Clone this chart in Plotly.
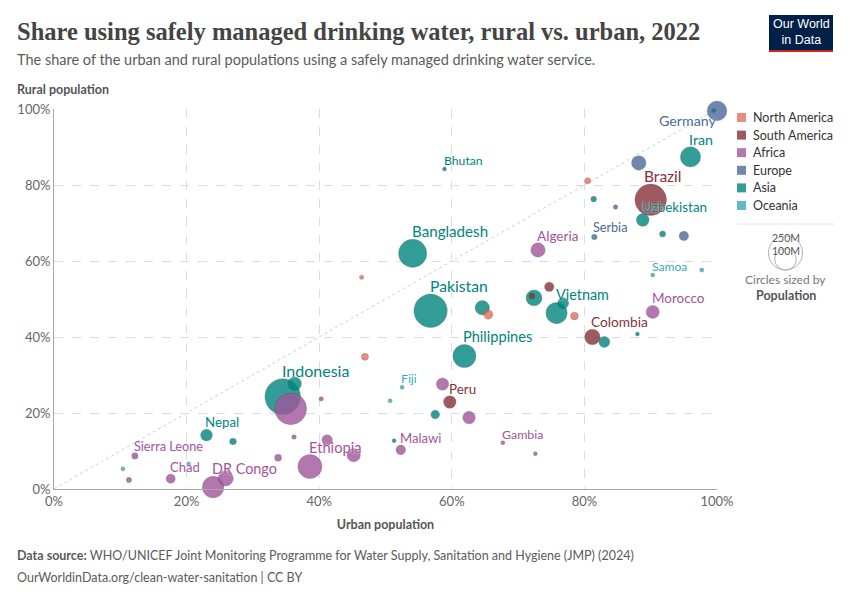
import plotly.graph_objects as go
import math

# ---------------- DATA ----------------
entities = [
    "Germany", "Asia-a", "Iran", "Europe-a", "NorthAm-a", "Brazil", "Asia-b", "Europe-b",
    "Uzbekistan", "Serbia", "Asia-c", "Europe-c", "Samoa", "Oceania-a", "Morocco", "Asia-d",
    "Colombia", "Asia-e", "Vietnam", "NorthAm-b", "Asia-f", "Asia-g", "SouthAm-a", "SouthAm-b",
    "Asia-h", "NorthAm-c", "Pakistan", "Bangladesh", "Algeria", "Bhutan", "NorthAm-d",
    "Philippines", "NorthAm-e", "Indonesia", "Asia-i", "Nigeria", "Africa-a", "Fiji",
    "Oceania-b", "Africa-b", "Peru", "Asia-j", "Africa-c", "Africa-d", "Africa-e", "Ethiopia",
    "Africa-f", "Africa-g", "Asia-k", "Malawi", "Gambia", "Africa-h", "Nepal", "Asia-l",
    "Sierra Leone", "Oceania-c", "Oceania-d", "Africa-i", "Chad", "DR Congo", "Africa-j",
]
continents = [
    "Europe", "Asia", "Asia", "Europe", "North America", "South America", "Asia", "Europe",
    "Asia", "Europe", "Asia", "Europe", "Oceania", "Oceania", "Africa", "Asia",
    "South America", "Asia", "Asia", "North America", "Asia", "Asia", "South America", "South America",
    "Asia", "North America", "Asia", "Asia", "Africa", "Asia", "North America",
    "Asia", "North America", "Asia", "Asia", "Africa", "Africa", "Oceania",
    "Oceania", "Africa", "South America", "Asia", "Africa", "Africa", "Africa", "Africa",
    "Africa", "Africa", "Asia", "Africa", "Africa", "Africa", "Asia", "Asia",
    "Africa", "Oceania", "Oceania", "Africa", "Africa", "Africa", "Africa",
]
urban = [
    100.0, 99.5, 96.0, 88.2, 80.5, 90.0, 81.4, 84.7,
    88.8, 81.5, 91.8, 95.0, 90.3, 97.7, 90.3, 88.0,
    81.2, 83.0, 75.8, 78.5, 76.8, 72.4, 72.1, 74.7,
    64.6, 65.5, 56.8, 54.1, 73.0, 58.9, 46.4,
    61.9, 46.9, 34.5, 36.3, 35.7, 40.3, 52.5,
    50.7, 58.6, 59.7, 57.5, 62.6, 36.2, 41.2, 38.6,
    45.2, 33.8, 51.3, 52.3, 67.7, 72.6, 23.0, 27.0,
    12.2, 20.3, 10.4, 11.3, 17.6, 24.0, 25.9,
]
rural = [
    99.5, 99.6, 87.4, 85.8, 81.1, 76.1, 76.3, 74.2,
    70.8, 66.3, 67.1, 66.6, 56.3, 57.6, 46.6, 40.8,
    40.0, 38.7, 46.3, 45.5, 48.9, 50.3, 50.8, 53.2,
    47.7, 45.9, 46.9, 62.0, 62.9, 84.2, 55.7,
    35.0, 34.8, 24.3, 27.7, 21.1, 23.7, 26.8,
    23.2, 27.6, 22.9, 19.6, 18.8, 13.7, 12.9, 5.9,
    8.9, 8.2, 12.7, 10.3, 12.2, 9.3, 14.2, 12.5,
    8.7, 6.6, 5.3, 2.4, 2.7, 0.5, 2.8,
]
population_m = [
    84, 1.5, 89, 45, 8, 215, 7, 4.5,
    35, 6.7, 8, 19, 0.2, 0.3, 37, 2,
    52, 26, 98, 13, 26, 55, 7, 19,
    45, 18, 240, 171, 45, 0.8, 4,
    115, 11, 275, 40, 218, 4, 0.9,
    0.7, 33, 34, 16, 34, 4.5, 24, 125,
    38, 10.5, 1.5, 20, 2.7, 3, 30, 9.5,
    8.6, 0.5, 1.0, 6, 18, 100, 49,
]
labeled = [
    "Germany", "Iran", "Brazil", "Uzbekistan", "Serbia", "Samoa", "Morocco", "Colombia",
    "Vietnam", "Pakistan", "Bangladesh", "Algeria", "Bhutan", "Philippines", "Indonesia",
    "Fiji", "Peru", "Ethiopia", "Malawi", "Gambia", "Nepal", "Sierra Leone", "Chad", "DR Congo",
]
continent_order = ["North America", "South America", "Africa", "Europe", "Asia", "Oceania"]
x_ticks = [0, 20, 40, 60, 80, 100]
y_ticks = [0, 20, 40, 60, 80, 100]
x_tick_labels = ["0%", "20%", "40%", "60%", "80%", "100%"]
y_tick_labels = ["0%", "20%", "40%", "60%", "80%", "100%"]
size_legend_values = [250, 100]
size_legend_labels = ["250M", "100M"]

# ---------------- STYLE ----------------
W, H = 850, 600
L, R, T, B = 54, 133, 109, 111
PW, PH = W - L - R, H - T - B
FONT = "Lato, 'Open Sans', sans-serif"
marker_colors = {
    "North America": "#e56e5a", "South America": "#883039", "Africa": "#a2559c",
    "Europe": "#4c6a9c", "Asia": "#00847e", "Oceania": "#38aaba",
}
label_colors = {
    "North America": "#c9523f", "South America": "#883039", "Africa": "#a2559c",
    "Europe": "#4c6a9c", "Asia": "#00847e", "Oceania": "#38aaba",
}
MAX_R, MAX_POP = 17.0, 250.0
SIZEREF = MAX_POP / (2 * MAX_R ** 2)
label_tweaks = {"Brazil": dict(xshift=-7)}


def px_x(px):
    return (px - L) / PW


def px_y(py):
    return (H - B - py) / PH


def radius(pop):
    return max(MAX_R * math.sqrt(pop / MAX_POP), 2.0)


fig = go.Figure()

# bubbles, largest drawn first
order = sorted(range(len(entities)), key=lambda i: -population_m[i])
fig.add_trace(go.Scatter(
    x=[urban[i] for i in order],
    y=[rural[i] for i in order],
    mode="markers",
    text=[entities[i] for i in order],
    marker=dict(
        size=[population_m[i] for i in order],
        sizemode="area", sizeref=SIZEREF, sizemin=2,
        color=[marker_colors[continents[i]] for i in order],
        opacity=0.8,
        line=dict(width=0.6, color="rgba(70,70,70,0.55)"),
    ),
    cliponaxis=False,
    showlegend=False,
    hoverinfo="text",
))

annotations = []
shapes = []
for name in labeled:
    i = entities.index(name)
    pop = population_m[i]
    r = radius(pop)
    fs = 12.0 + 4.0 * math.sqrt(pop / 275.0)
    ann = dict(
        x=urban[i], y=rural[i], xref="x", yref="y", text=name, showarrow=False,
        xanchor="left", yanchor="bottom", yshift=r - 1, xshift=-1,
        borderpad=0, borderwidth=0,
        font=dict(family=FONT, size=fs, color=label_colors[continents[i]],
                  shadow="0px 0px 2px white"),
    )
    if name == "Germany":
        ann.update(xanchor="right", yanchor="middle", xshift=-1, yshift=-10)
    ann.update(label_tweaks.get(name, {}))
    annotations.append(ann)

# continent legend (colour key)
LEG_X, LEG_Y0, LEG_DY = 741.5, 117.5, 17.6
for k, c in enumerate(continent_order):
    cy = LEG_Y0 + k * LEG_DY
    shapes.append(dict(
        type="rect", xref="paper", yref="paper", xsizemode="pixel", ysizemode="pixel",
        xanchor=px_x(LEG_X), yanchor=px_y(cy), x0=-4.5, x1=4.5, y0=-4.5, y1=4.5,
        fillcolor=marker_colors[c], opacity=0.8, line=dict(width=0),
    ))
    annotations.append(dict(
        xref="paper", yref="paper", x=px_x(751), y=px_y(cy), xanchor="left", yanchor="middle",
        text=c, showarrow=False, font=dict(family=FONT, size=12.5, color="#333333"),
    ))

# header / footer
annotations += [
    dict(xref="paper", yref="paper", x=px_x(15), y=px_y(31), xanchor="left", yanchor="middle",
         text="<b>Share using safely managed drinking water, rural vs. urban, 2022</b>",
         showarrow=False, font=dict(family="'Liberation Serif', serif", size=24.5, color="#444444")),
    dict(xref="paper", yref="paper", x=px_x(15), y=px_y(59), xanchor="left", yanchor="middle",
         text="The share of the urban and rural populations using a safely managed drinking water service.",
         showarrow=False, font=dict(family=FONT, size=14.5, color="#5b5b5b")),
    dict(xref="paper", yref="paper", x=px_x(15), y=px_y(90), xanchor="left", yanchor="middle",
         text="<b>Rural population</b>", showarrow=False,
         font=dict(family=FONT, size=12.5, color="#555555")),
    dict(xref="paper", yref="paper", x=px_x(801), y=px_y(32), xanchor="center", yanchor="middle",
         text="Our World<br>in Data", showarrow=False,
         font=dict(family="'Liberation Sans Narrow', 'Liberation Sans', sans-serif", size=12.5, color="white")),
    dict(xref="paper", yref="paper", x=px_x(15), y=px_y(555), xanchor="left", yanchor="middle",
         text="<b>Data source:</b> WHO/UNICEF Joint Monitoring Programme for Water Supply, Sanitation and Hygiene (JMP) (2024)",
         showarrow=False, font=dict(family=FONT, size=12.5, color="#5b5b5b")),
    dict(xref="paper", yref="paper", x=px_x(15), y=px_y(577), xanchor="left", yanchor="middle",
         text="OurWorldinData.org/clean-water-sanitation | CC BY",
         showarrow=False, font=dict(family=FONT, size=12.5, color="#5b5b5b")),
]

# size legend
cx, base_y = 785.5, 270
label_y = {250: 238, 100: 251}
for v, lab in zip(size_legend_values, size_legend_labels):
    r = MAX_R * math.sqrt(v / MAX_POP)
    cy = base_y - r
    shapes.append(dict(
        type="circle", xref="paper", yref="paper", xsizemode="pixel", ysizemode="pixel",
        xanchor=px_x(cx), yanchor=px_y(cy), x0=-r, x1=r, y0=-r, y1=r,
        line=dict(color="#b0b0b0", width=1), fillcolor="rgba(0,0,0,0)",
    ))
    annotations.append(dict(
        xref="paper", yref="paper", x=px_x(cx), y=px_y(label_y[v]), xanchor="center",
        yanchor="middle", text=lab, showarrow=False,
        font=dict(family=FONT, size=10.5, color="#555555", shadow="0px 0px 2px white"),
    ))
annotations += [
    dict(xref="paper", yref="paper", x=px_x(cx), y=px_y(279), xanchor="center", yanchor="middle",
         text="Circles sized by", showarrow=False, font=dict(family=FONT, size=12, color="#777777")),
    dict(xref="paper", yref="paper", x=px_x(cx), y=px_y(295), xanchor="center", yanchor="middle",
         text="<b>Population</b>", showarrow=False, font=dict(family=FONT, size=12.5, color="#555555")),
]
shapes += [
    dict(type="line", xref="paper", yref="paper", x0=px_x(737), x1=px_x(834), y0=px_y(224), y1=px_y(224),
         line=dict(color="#e2e2e2", width=1)),
    # logo
    dict(type="rect", xref="paper", yref="paper", x0=px_x(769), x1=px_x(833), y0=px_y(50), y1=px_y(15),
         fillcolor="#002147", line=dict(width=0)),
    dict(type="rect", xref="paper", yref="paper", x0=px_x(769), x1=px_x(833), y0=px_y(52), y1=px_y(50),
         fillcolor="#ce261e", line=dict(width=0)),
    # diagonal y = x reference line
    dict(type="line", xref="x", yref="y", x0=x_ticks[0], y0=y_ticks[0], x1=x_ticks[-1], y1=y_ticks[-1],
         line=dict(color="#cfcfcf", width=1, dash="dot"), layer="below"),
]

axis_common = dict(
    range=[0, 100], showgrid=True, gridcolor="#dddddd", griddash="dash",
    gridwidth=1, zeroline=False, showline=True, linecolor="#a8a8a8", linewidth=1,
    ticks="", tickfont=dict(family=FONT, size=13, color="#666666"), fixedrange=True,
    tickmode="array", automargin=False,
)
fig.update_layout(
    width=W, height=H,
    margin=dict(l=L, r=R, t=T, b=B, autoexpand=False),
    paper_bgcolor="white", plot_bgcolor="white",
    xaxis=dict(**axis_common, tickvals=x_ticks, ticktext=x_tick_labels,
               title=dict(text="<b>Urban population</b>", standoff=12,
                          font=dict(family=FONT, size=12.5, color="#555555"))),
    yaxis=dict(**axis_common, tickvals=y_ticks, ticktext=y_tick_labels),
    showlegend=False,
    annotations=annotations,
    shapes=shapes,
    hovermode="closest",
)

fig.write_html("out.html", config={"displayModeBar": False},
               post_script="document.body.style.margin='0px';")
